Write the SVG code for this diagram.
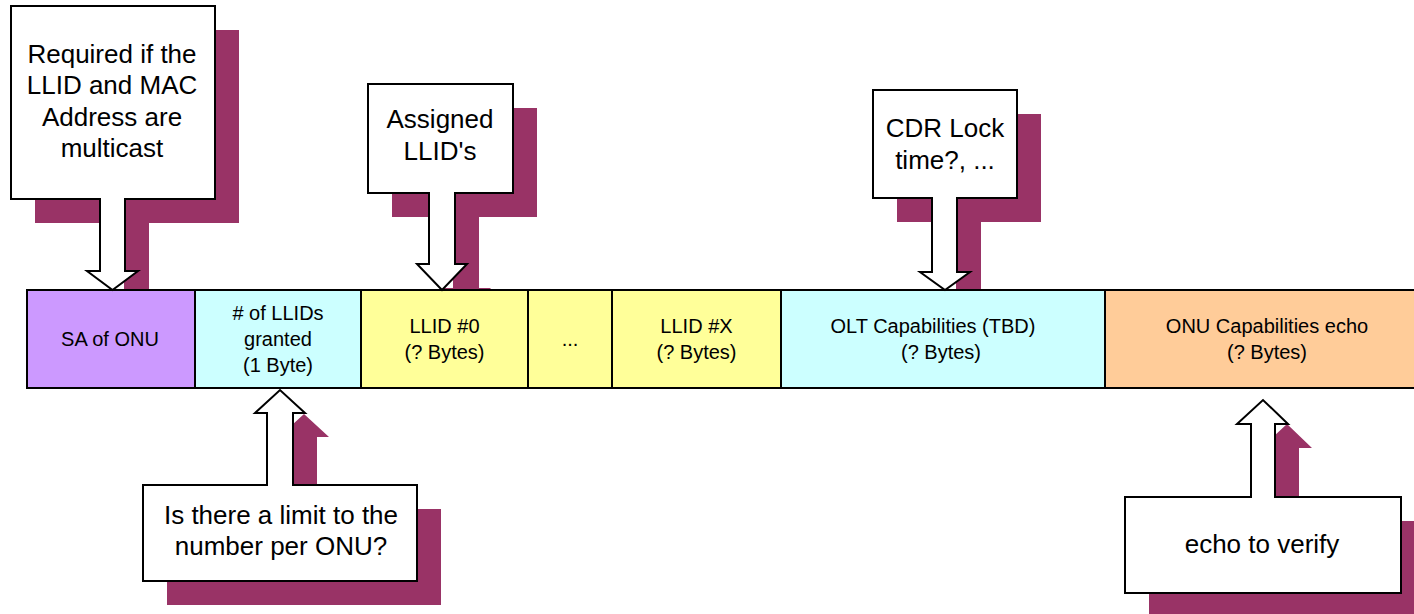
<svg xmlns="http://www.w3.org/2000/svg" width="1414" height="614" viewBox="0 0 1414 614">
<style>
.shadow{fill:#993366;stroke:none}
.callout{fill:#ffffff;stroke:#000000;stroke-width:2;stroke-linejoin:miter}
.cell{stroke:#000000;stroke-width:2}
.ct{font-family:"Liberation Sans",Arial,sans-serif;font-size:26px;fill:#000000;text-anchor:middle}
.bt{font-family:"Liberation Sans",Arial,sans-serif;font-size:20px;fill:#000000;text-anchor:middle}
</style>
<rect width="1414" height="614" fill="#ffffff"/>
<g id="shadows">
<path class="shadow" transform="translate(24,24)" d="M11,6 H215 V199 H125 V271 H138 L112.5,290 L87,271 H100 V199 H11 Z"/>
<path class="shadow" transform="translate(24,24)" d="M368,84 H513 V193 H455 V264 H467 L442,290 L417,264 H429 V193 H368 Z"/>
<path class="shadow" transform="translate(24,24)" d="M873,90 H1017 V198 H957 V272 H970 L945,290 L920,272 H932 V198 H873 Z"/>
<path class="shadow" transform="translate(24,24)" d="M143,485 H267 V413 H255 L280,390 L305,413 H293 V485 H417 V581 H143 Z"/>
<path class="shadow" transform="translate(24,24)" d="M1125,497 H1251 V424 H1237 L1263,400 L1288,424 H1275 V497 H1401 V593 H1125 Z"/>
</g>
<g id="frame">
<g id="cell-sa"><rect class="cell" x="27" y="290" width="168" height="98" fill="#cc99ff"/><text class="bt" x="110" y="346">SA of ONU</text></g>
<g id="cell-llids"><rect class="cell" x="195" y="290" width="166" height="98" fill="#ccffff"/><text class="bt" x="278" y="320"># of LLIDs</text><text class="bt" x="278" y="346">granted</text><text class="bt" x="278" y="372">(1 Byte)</text></g>
<g id="cell-llid0"><rect class="cell" x="361" y="290" width="167" height="98" fill="#ffff99"/><text class="bt" x="444.5" y="333">LLID #0</text><text class="bt" x="444.5" y="359">(? Bytes)</text></g>
<g id="cell-dots"><rect class="cell" x="528" y="290" width="84" height="98" fill="#ffff99"/><text class="bt" x="570" y="346">...</text></g>
<g id="cell-llidx"><rect class="cell" x="612" y="290" width="169" height="98" fill="#ffff99"/><text class="bt" x="696.5" y="333">LLID #X</text><text class="bt" x="696.5" y="359">(? Bytes)</text></g>
<g id="cell-olt"><rect class="cell" x="781" y="290" width="324" height="98" fill="#ccffff"/><text class="bt" x="933" y="333">OLT Capabilities (TBD)</text><text class="bt" x="941" y="359">(? Bytes)</text></g>
<g id="cell-onu"><rect class="cell" x="1105" y="290" width="330" height="98" fill="#ffcc99"/><text class="bt" x="1267" y="333">ONU Capabilities echo</text><text class="bt" x="1267" y="359">(? Bytes)</text></g>
</g>
<g id="connectors"></g>
<g id="callout-multicast">
<path class="callout" d="M11,6 H215 V199 H125 V271 H138 L112.5,290 L87,271 H100 V199 H11 Z"/>
<text class="ct" x="112" y="63">Required if the</text>
<text class="ct" x="112" y="94">LLID and MAC</text>
<text class="ct" x="112" y="126">Address are</text>
<text class="ct" x="112" y="157">multicast</text>
</g>
<g id="callout-assigned">
<path class="callout" d="M368,84 H513 V193 H455 V264 H467 L442,290 L417,264 H429 V193 H368 Z"/>
<text class="ct" x="440" y="128">Assigned</text>
<text class="ct" x="440" y="160">LLID's</text>
</g>
<g id="callout-cdr">
<path class="callout" d="M873,90 H1017 V198 H957 V272 H970 L945,290 L920,272 H932 V198 H873 Z"/>
<text class="ct" x="945" y="137">CDR Lock</text>
<text class="ct" x="945" y="169">time?, ...</text>
</g>
<g id="callout-limit">
<path class="callout" d="M143,485 H267 V413 H255 L280,390 L305,413 H293 V485 H417 V581 H143 Z"/>
<text class="ct" x="281" y="524">Is there a limit to the</text>
<text class="ct" x="281" y="555">number per ONU?</text>
</g>
<g id="callout-echo">
<path class="callout" d="M1125,497 H1251 V424 H1237 L1263,400 L1288,424 H1275 V497 H1401 V593 H1125 Z"/>
<text class="ct" x="1262" y="553">echo to verify</text>
</g>
</svg>
